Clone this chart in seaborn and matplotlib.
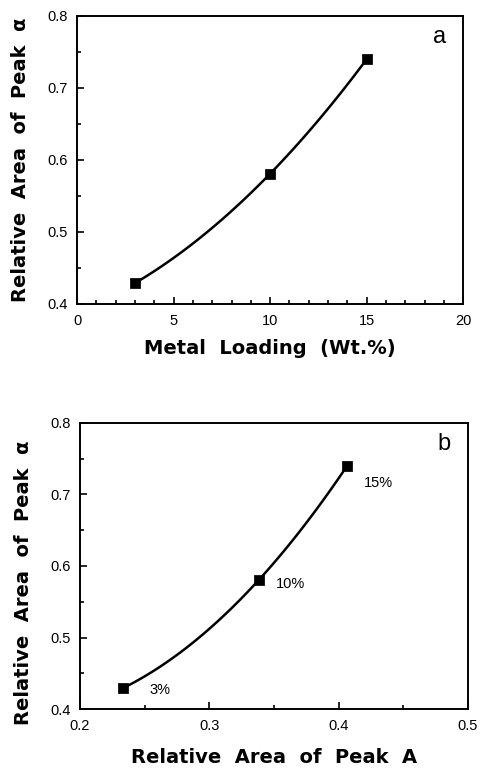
import numpy as np
import pandas as pd
import matplotlib
matplotlib.use("Agg")
import matplotlib.pyplot as plt
import seaborn as sns
from matplotlib.ticker import MultipleLocator

# ---- data ----
loading = [3, 10, 15]                      # metal loading, wt.%
alpha_area = [0.429, 0.581, 0.740]         # relative area of peak alpha
peakA_area = [0.233, 0.3385, 0.4065]       # relative area of peak A
point_labels = ["3%", "10%", "15%"]
label_offsets = [(19, -1), (12, -3), (12, -12)]   # text placement (points)

sns.set_style("ticks")
plt.rcParams['font.family'] = ['Liberation Sans', 'DejaVu Sans']
for k in ['text.color', 'axes.labelcolor', 'xtick.color', 'ytick.color',
          'axes.edgecolor']:
    plt.rcParams[k] = 'black'

fig = plt.figure(figsize=(4.82, 7.69), dpi=100)
ax_a = fig.add_axes([0.160, 0.6047, 0.801, 0.3745])
ax_b = fig.add_axes([0.166, 0.078, 0.805, 0.372])


def smooth(x, y):
    c = np.polyfit(x, y, 2)
    xs = np.linspace(min(x), max(x), 100)
    return xs, np.polyval(c, xs)


def style(ax, xlim, xmaj, xmin, xlabel, letter, xpad, ylab_xy):
    ax.set_xlim(*xlim)
    ax.set_ylim(0.4, 0.8)
    ax.xaxis.set_major_locator(MultipleLocator(xmaj))
    ax.xaxis.set_minor_locator(MultipleLocator(xmin))
    ax.yaxis.set_major_locator(MultipleLocator(0.1))
    ax.yaxis.set_minor_locator(MultipleLocator(0.05))
    ax.tick_params(which='both', direction='in', top=False, right=False,
                   labelsize=10.5, width=1.2, color='black', pad=7)
    ax.tick_params(which='major', length=5)
    ax.tick_params(which='minor', length=3)
    for s in ax.spines.values():
        s.set_linewidth(1.4)
        s.set_color('black')
    ax.set_xlabel(xlabel, fontsize=14, fontweight='bold', labelpad=xpad,
                  family=['DejaVu Sans'])
    ax.set_ylabel("Relative  Area  of  Peak  α", fontsize=14,
                  fontweight='bold', family=['DejaVu Sans'])
    ax.yaxis.set_label_coords(*ylab_xy)
    ax.text(0.955, 0.965, letter, transform=ax.transAxes, fontsize=17,
            ha='right', va='top')


# panel a
xs, ys = smooth(loading, alpha_area)
sns.lineplot(x=xs, y=ys, ax=ax_a, color='black', linewidth=1.8)
sns.scatterplot(x=loading, y=alpha_area, ax=ax_a, marker='s', s=45,
                color='black', edgecolor='black', zorder=3)
style(ax_a, (0, 20), 5, 1, "Metal  Loading  (Wt.%)", "a", 8, (-0.122, 0.5))
ax_a.set_xticks([0, 5, 10, 15, 20])
ax_a.set_xticklabels(["0", "5", "10", "15", "20"])
ax_a.set_yticks([0.4, 0.5, 0.6, 0.7, 0.8])
ax_a.set_yticklabels(["0.4", "0.5", "0.6", "0.7", "0.8"])

# panel b
xs, ys = smooth(peakA_area, alpha_area)
sns.lineplot(x=xs, y=ys, ax=ax_b, color='black', linewidth=1.8)
sns.scatterplot(x=peakA_area, y=alpha_area, ax=ax_b, marker='s', s=45,
                color='black', edgecolor='black', zorder=3)
style(ax_b, (0.2, 0.5), 0.1, 0.05, "Relative  Area  of  Peak  A", "b", 11,
      (-0.121, 0.44))
ax_b.set_xticks([0.2, 0.3, 0.4, 0.5])
ax_b.set_xticklabels(["0.2", "0.3", "0.4", "0.5"])
ax_b.set_yticks([0.4, 0.5, 0.6, 0.7, 0.8])
ax_b.set_yticklabels(["0.4", "0.5", "0.6", "0.7", "0.8"])
for x, y, t, off in zip(peakA_area, alpha_area, point_labels, label_offsets):
    ax_b.annotate(t, (x, y), xytext=off, textcoords='offset points',
                  fontsize=10.5, ha='left', va='center')

fig.savefig("out.png", dpi=100)
